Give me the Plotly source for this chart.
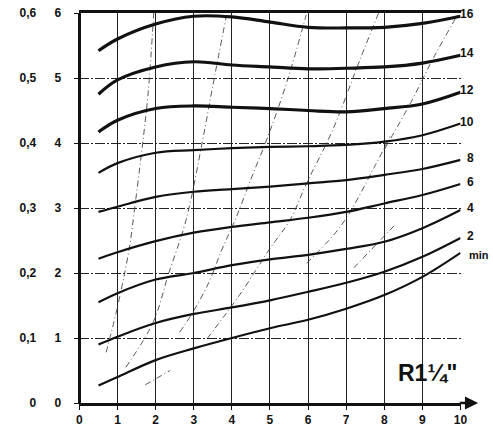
import plotly.graph_objects as go

# ---------------- data ----------------
X = [0.5, 1, 2, 3, 4, 5, 6, 7, 8, 9, 10]
curve_labels = ["16", "14", "12", "10", "8", "6", "4", "2", "min"]
c16 = [5.42, 5.60, 5.83, 5.95, 5.94, 5.86, 5.78, 5.77, 5.78, 5.84, 5.95]
c14 = [4.75, 4.97, 5.17, 5.25, 5.20, 5.17, 5.14, 5.15, 5.17, 5.23, 5.35]
c12 = [4.17, 4.35, 4.53, 4.57, 4.55, 4.53, 4.50, 4.48, 4.53, 4.60, 4.78]
c10 = [3.54, 3.69, 3.85, 3.89, 3.92, 3.94, 3.95, 3.97, 4.02, 4.12, 4.30]
c8 = [2.94, 3.02, 3.17, 3.25, 3.29, 3.33, 3.38, 3.43, 3.51, 3.60, 3.74]
c6 = [2.22, 2.32, 2.49, 2.62, 2.71, 2.78, 2.85, 2.94, 3.07, 3.20, 3.37]
c4 = [1.55, 1.69, 1.90, 2.00, 2.12, 2.21, 2.28, 2.37, 2.48, 2.69, 2.97]
c2 = [0.90, 1.02, 1.23, 1.37, 1.47, 1.58, 1.71, 1.85, 2.02, 2.25, 2.54]
cmin = [0.27, 0.40, 0.66, 0.84, 1.00, 1.15, 1.28, 1.45, 1.66, 1.94, 2.31]
curves = [c16, c14, c12, c10, c8, c6, c4, c2, cmin]

# thin dash-dot guide lines
d1x = [0.70, 0.96, 1.30, 1.45, 1.62, 1.80, 1.95]
d1y = [0.78, 1.38, 2.35, 3.00, 3.80, 4.75, 6.00]
d2x = [1.22, 1.94, 2.33, 2.80, 3.22, 3.48, 3.86]
d2y = [0.55, 1.25, 1.97, 2.82, 4.00, 4.82, 5.97]
d3x = [2.63, 2.96, 3.40, 3.73, 4.09, 4.51, 4.94, 5.45, 5.95]
d3y = [1.09, 1.38, 1.86, 2.35, 2.82, 3.46, 4.09, 4.95, 5.97]
d4x = [3.35, 4.20, 4.98, 5.53, 5.96, 6.63, 7.38, 7.85]
d4y = [0.99, 1.66, 2.36, 2.82, 3.38, 4.18, 5.31, 6.00]
d5x = [5.96, 6.88, 7.73, 8.15]
d5y = [2.15, 2.74, 3.62, 4.10]
d6x = [8.00, 8.71, 9.29, 9.95]
d6y = [3.90, 4.64, 5.31, 6.00]
d7x = [7.20, 8.28]
d7y = [2.08, 2.74]
d8x = [1.73, 2.38]
d8y = [0.28, 0.50]
guides = [(d1x, d1y), (d2x, d2y), (d3x, d3y), (d4x, d4y),
          (d5x, d5y), (d6x, d6y), (d7x, d7y), (d8x, d8y)]

x_ticks = list(range(0, 11))
y_ticks = list(range(0, 7))
y2_ticks = [0, 0.1, 0.2, 0.3, 0.4, 0.5, 0.6]
y2_text = ["0", "0,1", "0,2", "0,3", "0,4", "0,5", "0,6"]
title_text = 'R1¼"'

# ---------------- figure ----------------
FONT = "Liberation Sans"
INK = "#111111"
W, H = 493, 432
fig = go.Figure()

for gx, gy in guides:
    fig.add_trace(go.Scatter(x=gx, y=gy, mode="lines", line_shape="spline",
                             line=dict(color="#444444", width=0.9, dash="6px,3px,1px,3px"),
                             hoverinfo="skip", showlegend=False))

for i, cy in enumerate(curves):
    w = 3.2 if i < 3 else 2.2
    fig.add_trace(go.Scatter(x=X, y=cy, mode="lines", line_shape="spline",
                             line=dict(color=INK, width=w, smoothing=1.0),
                             hoverinfo="skip", showlegend=False))

# curve labels at the right edge
for lab, cy in zip(curve_labels, curves):
    if lab == "min":
        fig.add_annotation(x=X[-1], y=cy[-1], text=lab, showarrow=False,
                           xanchor="left", yanchor="middle", xshift=6, yshift=-2,
                           font=dict(family=FONT, size=11, color=INK, weight="bold"))
    else:
        fig.add_annotation(x=X[-1], y=cy[-1], text=lab, showarrow=False,
                           xanchor="right", yanchor="middle", xshift=15, yshift=2,
                           font=dict(family=FONT, size=12, color=INK, weight="bold"))

# arrow extending the x axis beyond 10
fig.add_annotation(xref="paper", yref="y", x=485 / W, y=y_ticks[0],
                   ax=-20, ay=0, text="", showarrow=True, arrowhead=2,
                   arrowsize=1.1, arrowwidth=2.4, arrowcolor=INK)

# R 1 1/4" label
fig.add_annotation(x=9.15, y=0.46, text=title_text, showarrow=False,
                   xanchor="center", yanchor="middle",
                   font=dict(family=FONT, size=23, color=INK, weight="bold"))

fig.update_layout(
    width=W, height=H,
    margin=dict(l=0, r=0, t=13, b=29),
    paper_bgcolor="white", plot_bgcolor="white",
    xaxis=dict(domain=[78 / W, 467 / W], range=[0, 10], tickvals=x_ticks,
               showgrid=True, gridcolor="#222222", gridwidth=1,
               showline=True, linecolor=INK, linewidth=2.6, mirror=True,
               ticks="outside", ticklen=4, tickcolor=INK, zeroline=False,
               tickfont=dict(family=FONT, size=12, color=INK, weight="bold"),
               ticklabelstandoff=0, fixedrange=True),
    yaxis=dict(anchor="free", position=78 / W, range=[0, 6], tickvals=y_ticks,
               showgrid=True, gridcolor="#222222", gridwidth=1, griddash="10px,2px,2px,2px",
               showline=True, linecolor=INK, linewidth=2.6, mirror=True,
               ticks="outside", ticklen=5, tickcolor=INK, zeroline=False,
               tickfont=dict(family=FONT, size=12, color=INK, weight="bold"),
               ticklabelstandoff=10, fixedrange=True),
    yaxis2=dict(overlaying="y", anchor="free", position=34 / W, side="left",
                range=[0, 0.6], tickvals=y2_ticks, ticktext=y2_text,
                showgrid=False, showline=False, ticks="", zeroline=False,
                tickfont=dict(family=FONT, size=12, color=INK, weight="bold"),
                fixedrange=True),
)
# helper trace so the secondary (0-0.6) scale is rendered
fig.add_trace(go.Scatter(x=[X[0]], y=[y2_ticks[0]], yaxis="y2", mode="markers",
                         marker=dict(opacity=0), hoverinfo="skip", showlegend=False))

fig.write_html("out.html")
